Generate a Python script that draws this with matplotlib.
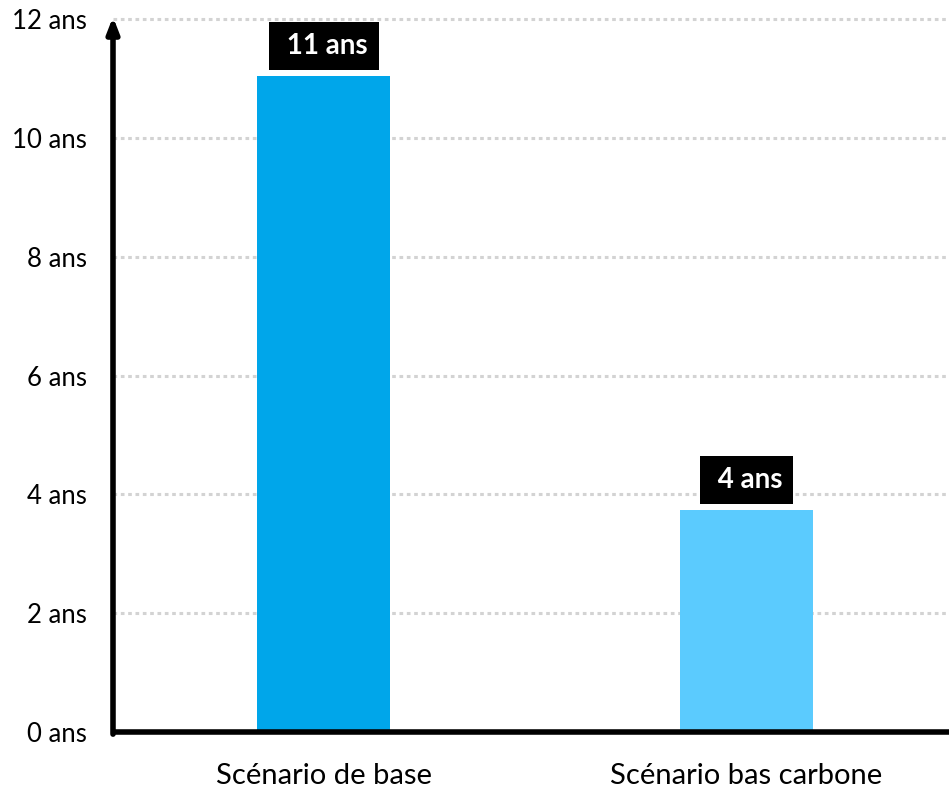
import matplotlib
matplotlib.use("Agg")
from matplotlib import pyplot as plt

plt.rcParams['font.family'] = ['Lato', 'DejaVu Sans']

# durées par scénario (années)
scenarios = ['Scénario de base', 'Scénario bas carbone']
durees = [11.04, 3.74]
couleurs = ['#00A6EA', '#5BCBFE']
yticks = [0, 2, 4, 6, 8, 10, 12]
ytick_labels = ['%d ans' % t for t in yticks]


def main():
    fig = plt.figure(figsize=(9.49, 7.88), dpi=100)
    ax = fig.add_axes([113 / 949, 56 / 788, 836 / 949, 713 / 788])

    x = range(len(scenarios))
    ax.bar(x, durees, width=0.314, color=couleurs, zorder=2)

    ax.set_xlim(-0.498, 1.479)
    ax.set_ylim(0, 12)
    ax.set_yticks(yticks)
    ax.set_yticklabels(ytick_labels)
    ax.set_xticks(list(x))
    ax.set_xticklabels(scenarios, fontsize=21)
    ax.tick_params(axis='both', length=0, colors='#000000')
    ax.tick_params(axis='y', pad=19, labelsize=18.5)
    ax.tick_params(axis='x', pad=22)

    # grille pointillée derrière les barres
    for t in yticks[1:]:
        ax.axhline(t, color='#D3D3D3', lw=2.2, ls=(0, (1.2, 1.2)), zorder=1, clip_on=False)

    for s in ax.spines.values():
        s.set_visible(False)

    # axe x épais, axe y avec flèche
    ax.plot([0, 1], [0, 0], transform=ax.transAxes, color='black', lw=4,
            solid_capstyle='butt', clip_on=False, zorder=3)
    ax.annotate('', xy=(0, 1.003), xytext=(0, -0.003), xycoords='axes fraction',
                arrowprops=dict(arrowstyle='-|>,head_length=0.9,head_width=0.35',
                                color='black', lw=4, shrinkA=0, shrinkB=0),
                zorder=4)

    for i, v in enumerate(durees):
        ax.annotate(' %d ans' % round(v), xy=(i, v), xytext=(0, 12),
                    textcoords='offset points', ha='center', va='bottom',
                    color='white', fontsize=20, fontweight='bold',
                    bbox=dict(boxstyle='square,pad=0.4', fc='black', ec='none'),
                    zorder=5)

    fig.savefig('out.png', dpi=100)


if __name__ == '__main__':
    main()
